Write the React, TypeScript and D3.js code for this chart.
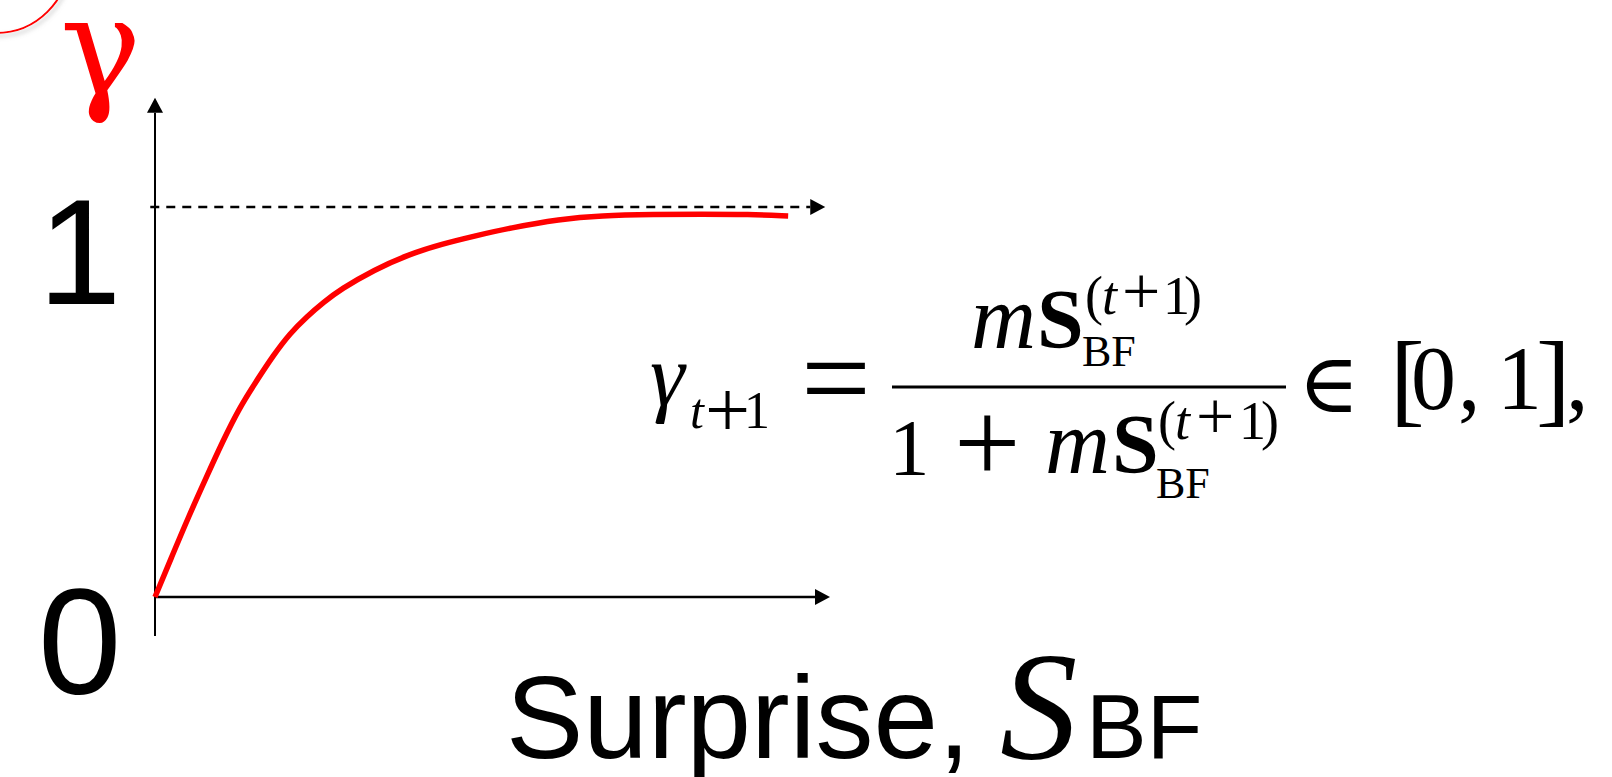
import React from "react";
import * as d3 from "d3";

// curve: surprise (x) vs gamma (y)
const surprise = [0, 0.25, 0.5, 0.75, 1.0, 1.25, 1.5, 1.75, 2.0, 2.25, 2.5, 2.75, 3.25, 3.75, 4.25, 4.75, 5.25, 6.0, 6.6, 7.4, 8.1, 8.8, 9.38];
const gamma = [0, 0.104, 0.207, 0.303, 0.398, 0.485, 0.553, 0.619, 0.676, 0.719, 0.756, 0.789, 0.839, 0.878, 0.905, 0.926, 0.946, 0.969, 0.978, 0.981, 0.982, 0.981, 0.977];
const yTickValues = [0, 1];
const yTickLabels = ["0", "1"];

const W = 1612;
const H = 777;

const App = () => {
    const xScale = d3.scaleLinear().domain([0, 10]).range([155, 830]);
    const yScale = d3.scaleLinear().domain([0, 1]).range([597, 207]);

    const points = surprise.map((s, i) => [s, gamma[i]] as [number, number]);
    const line = d3.line<[number, number]>()
        .x(d => xScale(d[0]))
        .y(d => yScale(d[1]))
        .curve(d3.curveBasis);

    const x0 = xScale(0);
    const y0 = yScale(0);
    const yTop = yScale(1.28);
    const xEnd = xScale(10);
    const dashEnd = xScale(9.93);
    const head = 15;
    const half = 8;

    const serif = "'Liberation Serif', 'Times New Roman', serif";
    const sans = "'Liberation Sans', Arial, sans-serif";

    return (
        <svg width={W} height={H} viewBox={`0 0 ${W} ${H}`}
            style={{ position: "absolute", left: 0, top: 0, background: "#fff" }}>
            <defs>
                <filter id="shadow" x="-50%" y="-50%" width="200%" height="200%">
                    <feDropShadow dx="2" dy="3" stdDeviation="2" floodColor="#888" floodOpacity="0.5" />
                </filter>
            </defs>

            {/* circled corner mark */}
            <circle cx={-4} cy={-40} r={73} fill="none" stroke="#ff0000" strokeWidth={2} filter="url(#shadow)" />

            {/* gamma axis title */}
            <text x={60} y={95} fill="#ff0000" style={{ fontFamily: "'DejaVu Serif', serif", fontSize: "136px" }}>γ</text>

            {/* y axis */}
            <line x1={x0} x2={x0} y1={yScale(-0.1)} y2={yTop + head} stroke="#000" strokeWidth={2} />
            <path d={`M${x0},${yTop} L${x0 - half},${yTop + head} L${x0 + half},${yTop + head} Z`} fill="#000" />

            {/* x axis */}
            <line x1={x0} x2={xEnd - head} y1={y0} y2={y0} stroke="#000" strokeWidth={2.5} />
            <path d={`M${xEnd},${y0} L${xEnd - head},${y0 - half} L${xEnd - head},${y0 + half} Z`} fill="#000" />

            {/* asymptote at 1 */}
            <line x1={xScale(-0.07)} x2={dashEnd - head} y1={yScale(1)} y2={yScale(1)}
                stroke="#000" strokeWidth={2.5} strokeDasharray="9,7" />
            <path d={`M${dashEnd},${yScale(1)} L${dashEnd - head},${yScale(1) - half} L${dashEnd - head},${yScale(1) + half} Z`} fill="#000" />

            {/* tick labels */}
            {yTickValues.map((v, i) => (
                <text key={i} x={38} y={yScale(v) + 97} style={{ fontFamily: sans, fontSize: "150px" }}>
                    {yTickLabels[i]}
                </text>
            ))}

            {/* curve */}
            <path d={line(points) || ""} fill="none" stroke="#ff0000" strokeWidth={5.5} />

            {/* formula */}
            <g style={{ fontFamily: serif }} fill="#000">
                <text x={650} y={405} fontStyle="italic" fontSize={88}>γ</text>
                <text x={690} y={428} fontStyle="italic" fontSize={50}>t</text>
                <text x={705} y={437} fontSize={80}>+</text>
                <text x={744} y={428} fontSize={52}>1</text>
                <text x={801} y={420} fontSize={124}>=</text>

                <text x={971} y={348} fontStyle="italic" fontSize={90}>m</text>
                <text x={1037} y={348} fontWeight="bold" fontSize={84}>S</text>
                <text x={1082} y={366} fontSize={44}>BF</text>
                <text x={1085} y={314} fontSize={54}>(</text>
                <text x={1102} y={314} fontSize={54} fontStyle="italic">t</text>
                <text x={1122} y={314} fontSize={68}>+</text>
                <text x={1163} y={314} fontSize={54}>1</text>
                <text x={1184} y={314} fontSize={54}>)</text>

                <line x1={892} x2={1286} y1={387} y2={387} stroke="#000" strokeWidth={3} />

                <text x={889} y={475} fontSize={81}>1</text>
                <text x={954} y={483} fontSize={118}>+</text>
                <text x={1045} y={473} fontStyle="italic" fontSize={90}>m</text>
                <text x={1112} y={473} fontWeight="bold" fontSize={84}>S</text>
                <text x={1156} y={498} fontSize={44}>BF</text>
                <text x={1158} y={439} fontSize={54}>(</text>
                <text x={1175} y={439} fontSize={54} fontStyle="italic">t</text>
                <text x={1196} y={439} fontSize={68}>+</text>
                <text x={1239} y={439} fontSize={54}>1</text>
                <text x={1261} y={439} fontSize={54}>)</text>

                <text x={1298} y={412} fontSize={83} style={{ fontFamily: "'DejaVu Serif', serif" }}>∈</text>
                <text x={1390} y={413} fontSize={104}>[</text>
                <text x={1411} y={409} fontSize={90}>0</text>
                <text x={1458} y={409} fontSize={90}>,</text>
                <text x={1497} y={409} fontSize={90}>1</text>
                <text x={1536} y={413} fontSize={104}>]</text>
                <text x={1566} y={409} fontSize={90}>,</text>
            </g>

            {/* x axis title */}
            <text x={506} y={758} style={{ fontFamily: sans, fontSize: "116px" }}>Surprise,</text>
            <text x={1000} y={758} fontStyle="italic" style={{ fontFamily: serif, fontSize: "155px" }}>S</text>
            <text x={1086} y={758} style={{ fontFamily: sans, fontSize: "91px" }}>BF</text>
        </svg>
    );
};

export default App;
